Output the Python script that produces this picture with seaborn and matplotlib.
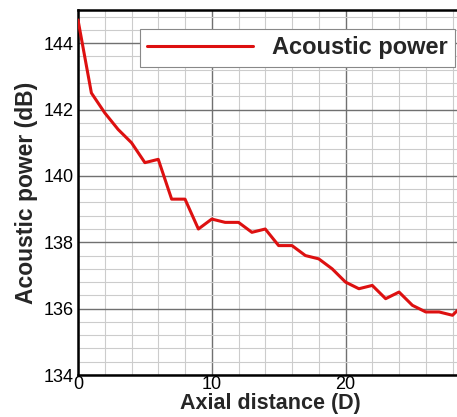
import numpy as np
import pandas as pd
import matplotlib
matplotlib.use("Agg")
import matplotlib.pyplot as plt
from matplotlib.ticker import MultipleLocator
import seaborn as sns

# values
axial_distance = list(range(30))
acoustic_power = [144.7, 142.5, 141.9, 141.4, 141.0, 140.4, 140.5, 139.3, 139.3, 138.4,
                  138.7, 138.6, 138.6, 138.3, 138.4, 137.9, 137.9, 137.6, 137.5, 137.2,
                  136.8, 136.6, 136.7, 136.3, 136.5, 136.1, 135.9, 135.9, 135.8, 136.2]
series_name = "Acoustic power"

df = pd.DataFrame({"x": axial_distance, "y": acoustic_power, "series": series_name})

sns.set_style("white")
plt.rcParams['font.family'] = ['Liberation Sans', 'DejaVu Sans']

fig = plt.figure(figsize=(4.57, 4.17), dpi=100)
ax = fig.add_axes([0.1707, 0.1007, 0.84, 0.8753])

sns.lineplot(data=df, x="x", y="y", hue="series", palette=["#dd1010"],
             linewidth=2.2, ax=ax, zorder=5)

ax.set_xlim(0, 28.7)
ax.set_ylim(134, 145)
ax.xaxis.set_major_locator(MultipleLocator(10))
ax.xaxis.set_minor_locator(MultipleLocator(2))
ax.yaxis.set_major_locator(MultipleLocator(2))
ax.yaxis.set_minor_locator(MultipleLocator(0.4))

ax.grid(which="major", color="#707070", linewidth=1.0)
ax.grid(which="minor", color="#cccccc", linewidth=0.8)
ax.set_axisbelow(True)

ax.tick_params(which="major", direction="in", length=6, width=1.2, labelsize=13,
               colors="black", top=False, right=False)
ax.tick_params(which="minor", direction="in", length=3, width=0.8)
ax.tick_params(axis="x", pad=1)
ax.tick_params(axis="y", pad=3)

for side in ["left", "bottom", "top"]:
    ax.spines[side].set_visible(True)
    ax.spines[side].set_color("black")
    ax.spines[side].set_linewidth(1.8)
ax.spines["right"].set_visible(False)

ax.set_xlabel("Axial distance (D)", fontsize=15.5, fontweight="bold", labelpad=0)
ax.set_ylabel("Acoustic power (dB)", fontsize=16.5, fontweight="bold", labelpad=4)

leg = ax.legend(loc="upper right", bbox_to_anchor=(0.982, 0.947), borderaxespad=0,
                fancybox=False, framealpha=1, edgecolor="#888888",
                handlelength=4.5, handletextpad=0.8, borderpad=0.3,
                prop={"size": 17, "weight": "bold"})
leg.get_frame().set_linewidth(0.8)
leg.set_zorder(10)

fig.savefig("out.png", dpi=100)
